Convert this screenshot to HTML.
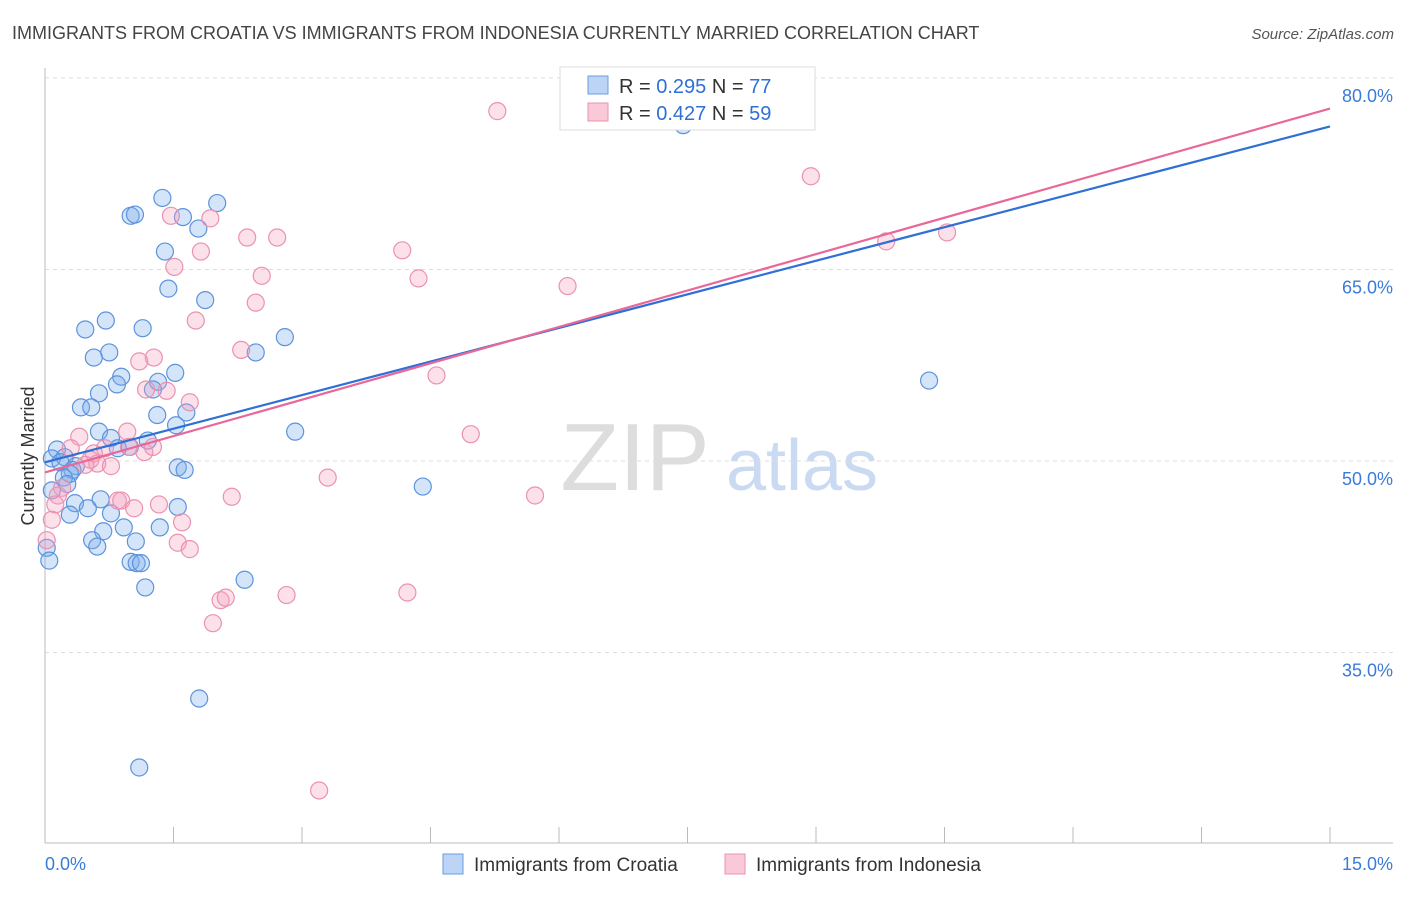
<!DOCTYPE html>
<html><head><meta charset="utf-8">
<style>
body{margin:0;background:#fff;font-family:"Liberation Sans",sans-serif;}
svg text{font-family:"Liberation Sans",sans-serif;}
</style></head>
<body>
<svg id="chart" width="1406" height="892" viewBox="0 0 1406 892">
<text x="12" y="39" font-size="18" fill="#444">IMMIGRANTS FROM CROATIA VS IMMIGRANTS FROM INDONESIA CURRENTLY MARRIED CORRELATION CHART</text>
<text x="1394" y="39" font-size="15" fill="#555" font-style="italic" text-anchor="end">Source: ZipAtlas.com</text>
<text transform="translate(34,456) rotate(-90)" font-size="18" fill="#333" text-anchor="middle">Currently Married</text>
<g>
<text x="635" y="490" font-size="96" fill="#ddd" font-family="Liberation Serif" text-anchor="middle">ZIP</text>
<text x="802" y="490" font-size="72" fill="#c9daf2" text-anchor="middle">atlas</text>
</g>
<g id="grid"></g>
<g id="axes"></g>
<g id="points"></g>
<g id="trends"></g>
<g>
<rect x="560" y="67" width="255" height="63" fill="#fff" stroke="#ddd"/>
<rect x="588" y="76" width="20" height="18" fill="#bcd4f5" stroke="#6a9be0"/>
<rect x="588" y="103" width="20" height="18" fill="#f9c9d8" stroke="#ea92b0"/>
<text x="619" y="93" font-size="20" fill="#333">R = <tspan fill="#2f6fd6">0.295</tspan>   N = <tspan fill="#2f6fd6">77</tspan></text>
<text x="619" y="120" font-size="20" fill="#333">R = <tspan fill="#2f6fd6">0.427</tspan>   N = <tspan fill="#2f6fd6">59</tspan></text>
</g>
<g>
<rect x="443" y="854" width="20" height="20" fill="#bcd4f5" stroke="#6a9be0"/>
<text x="474" y="871" font-size="19" fill="#333">Immigrants from Croatia</text>
<rect x="725" y="854" width="20" height="20" fill="#f9c9d8" stroke="#ea92b0"/>
<text x="756" y="871" font-size="19" fill="#333">Immigrants from Indonesia</text>
</g>
</svg>
<script>
const yTicks=[35,50,65,80];
const yTickLabels=["35.0%","50.0%","65.0%","80.0%"];
const xEnds=[0,15];
const xEndLabels=["0.0%","15.0%"];
const croatiaX=[7.45,1.37,2.01,1.00,1.05,1.61,1.79,1.40,1.44,1.87,2.80,0.71,0.47,1.14,2.46,0.75,0.57,0.89,0.84,1.32,1.52,1.26,0.63,0.42,0.54,1.31,1.65,1.53,2.92,0.63,0.77,1.20,0.99,0.85,0.14,0.08,0.23,0.18,0.36,0.32,1.55,1.63,0.29,0.22,0.08,0.26,0.65,0.35,0.50,0.29,0.77,1.55,4.41,10.32,0.92,1.34,0.68,0.55,0.61,1.06,0.02,0.05,1.00,1.07,1.12,2.33,1.17,1.80,1.10];
const croatiaY=[76.3,70.6,70.2,69.2,69.3,69.1,68.2,66.4,63.5,62.6,59.7,61.0,60.3,60.4,58.5,58.5,58.1,56.6,56.0,56.2,56.9,55.6,55.3,54.2,54.2,53.6,53.8,52.8,52.3,52.3,51.8,51.6,51.1,51.0,50.9,50.2,50.3,49.9,49.6,49.3,49.5,49.3,49.0,48.7,47.7,48.2,47.0,46.7,46.3,45.8,45.9,46.4,48.0,56.3,44.8,44.8,44.5,43.8,43.3,43.7,43.2,42.2,42.1,42.0,42.0,40.7,40.1,31.4,26.0];
const indoX=[5.28,8.94,1.47,1.93,2.36,2.71,1.82,1.51,4.17,4.36,2.53,6.10,2.46,1.76,2.29,1.27,1.10,4.57,1.18,1.42,1.69,4.97,0.40,0.96,0.30,0.70,0.98,0.57,0.53,0.61,0.77,1.16,1.26,0.20,0.15,0.85,0.89,2.18,1.04,1.33,3.30,5.72,0.08,0.02,1.60,1.55,1.69,2.05,2.11,1.96,2.82,4.23,3.20,9.82,10.53,0.12,0.47];
const indoY=[77.4,72.3,69.2,69.0,67.5,67.5,66.4,65.2,66.5,64.3,64.5,63.7,62.4,61.0,58.7,58.1,57.8,56.7,55.6,55.5,54.6,52.1,51.9,52.3,51.0,51.0,51.1,50.6,50.1,49.8,49.6,50.7,51.1,47.9,47.3,46.9,46.9,47.2,46.3,46.6,48.7,47.3,45.4,43.8,45.2,43.6,43.1,39.1,39.3,37.3,39.5,39.7,24.2,67.2,67.9,46.6,49.7];
const croatiaTrend=[49.9,76.2];
const indoTrend=[49.1,77.6];

const NS="http://www.w3.org/2000/svg";
const X0=45,X1=1330,YPX50=461,PXPER=12.77;
function xs(v){return X0+(v-xEnds[0])/(xEnds[1]-xEnds[0])*(X1-X0);}
function ys(v){return YPX50-(v-50)*PXPER;}
function mk(tag,attrs,parent){const e=document.createElementNS(NS,tag);for(const k in attrs)e.setAttribute(k,attrs[k]);parent.appendChild(e);return e;}
const grid=document.getElementById('grid'),axes=document.getElementById('axes'),pts=document.getElementById('points'),tr=document.getElementById('trends');
yTicks.forEach((t,i)=>{
 const l=mk('line',{x1:45,x2:1393,y1:ys(t),y2:ys(t),stroke:'#ddd','stroke-dasharray':'4,4'},grid);
 
 
 const tx=mk('text',{x:1393,y:ys(t)+24,'font-size':18,fill:'#3b7bd8','text-anchor':'end'},grid);
 tx.textContent=yTickLabels[i];
 
 
});
const ax=mk('line',{x1:45,x2:45,y1:68,y2:843,stroke:'#bbb'},axes);


const bx=mk('line',{x1:45,x2:1393,y1:843,y2:843,stroke:'#bbb'},axes);


for(let i=0;i<=10;i++){
 const v=xEnds[0]+i*(xEnds[1]-xEnds[0])/10;
 const t=mk('line',{x1:xs(v),x2:xs(v),y1:827,y2:843,stroke:'#bbb'},axes);
 
 
}
xEnds.forEach((v,i)=>{
 const tx=mk('text',{x:i?1393:45,y:870,'font-size':18,fill:'#3b7bd8','text-anchor':i?'end':'start'},axes);
 tx.textContent=xEndLabels[i];
 
 
});
function drawPts(X,Y,fill,stroke,name){
 X.forEach((x,i)=>{
  const c=mk('circle',{cx:xs(x),cy:ys(Y[i]),r:8.5,fill:fill,stroke:stroke,'stroke-width':1.2},pts);
  
  
 });
}
drawPts(croatiaX,croatiaY,'rgba(120,170,235,0.32)','#5d93dc','point-croatia');
drawPts(indoX,indoY,'rgba(245,160,190,0.32)','#ea92b0','point-indonesia');
const l1=mk('line',{x1:xs(xEnds[0]),y1:ys(croatiaTrend[0]),x2:xs(xEnds[1]),y2:ys(croatiaTrend[1]),stroke:'#2f6fd6','stroke-width':2.2},tr);


const l2=mk('line',{x1:xs(xEnds[0]),y1:ys(indoTrend[0]),x2:xs(xEnds[1]),y2:ys(indoTrend[1]),stroke:'#e8689a','stroke-width':2.2},tr);


</script>
</body></html>
